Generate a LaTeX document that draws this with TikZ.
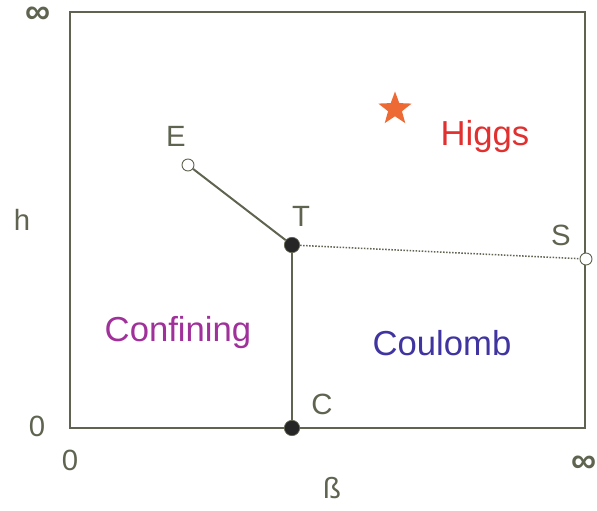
\documentclass[tikz,border=0pt]{standalone}
\usepackage{fontspec}
\setmainfont{Liberation Sans}
\usetikzlibrary{
  positioning,
  shapes.geometric}

\definecolor{axisgray}{HTML}{5F6450}
\definecolor{higgsred}{HTML}{E0302F}
\definecolor{starorange}{HTML}{EE6A35}
\definecolor{confpurple}{HTML}{A0309A}
\definecolor{coulblue}{HTML}{4035A0}

\tikzset{
  lbl/.style={
    text=axisgray,
    inner sep=0pt,
    font=\fontsize{25}{30}\selectfont
  },
  inflbl/.style={
    text=axisgray,
    inner sep=0pt,
    anchor=base,
    text height=0.5em,
    text depth=0pt,
    font=\fontsize{30}{36}\selectfont\bfseries
  },
  phase/.style={
    inner sep=0pt,
    font=\fontsize{29.6}{35}\selectfont
  },
  opendot/.style={
    circle,
    draw=axisgray,
    fill=white,
    line width=0.8pt,
    inner sep=0pt,
    minimum size=0.36cm
  },
  fulldot/.style={
    circle,
    draw=axisgray,
    fill=black!85,
    line width=0.6pt,
    inner sep=0pt,
    minimum size=0.46cm
  }
}

\begin{document}
\begin{tikzpicture}[x=0.03cm,y=-0.03cm]%
  \useasboundingbox (0,0) rectangle (597,510);

  % Frame
  \draw[
    axisgray,
    line width=2.2pt
  ] (70,12) rectangle (585,428);

  % Axis labels
  \node[inflbl] (inftop) at (38,24) {∞};
  \node[inflbl] (infright) at (584,472) {∞};
  \node[lbl] (hlab) at (22,220) {h};
  \node[lbl] (zeroh) at (37,426) {0};
  \node[lbl] (zerob) at (70,460) {0};
  \node[lbl] (blab) at (332,488) {ß};

  % Points
  \node[opendot] (E) at (188,165) {};
  \node[fulldot] (T) at (292,245) {};
  \node[opendot] (S) at (586,259) {};
  \node[fulldot] (C) at (292,428) {};

  \node[lbl] (Elab) at (176,136) {E};
  \node[lbl] (Tlab) at (301,216) {T};
  \node[lbl] (Slab) at (561,235) {S};
  \node[lbl] (Clab) at (322,404) {C};

  % Transition lines
  \draw[
    axisgray,
    line width=1.7pt
  ] (E) -- (T);
  \draw[
    axisgray,
    line width=1.7pt
  ] (T) -- (C);
  \draw[
    axisgray,
    line width=1.3pt,
    dash pattern=on 1.3pt off 1.3pt
  ] (T) -- (S);

  % Phases
  \node[
    star,
    star points=5,
    star point ratio=2.4,
    fill=starorange,
    inner sep=0pt,
    minimum size=1.05cm
  ] (higgsstar) at (395,109) {};

  \node[phase, text=higgsred] (higgs) at (485,137) {Higgs};
  \node[phase, text=confpurple] (conf) at (178,333) {Confining};
  \node[phase, text=coulblue] (coul) at (442,343) {Coulomb};

\end{tikzpicture}
\end{document}
